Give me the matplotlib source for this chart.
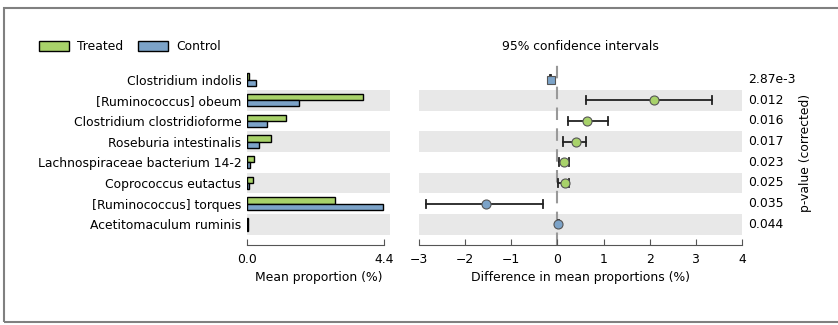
import matplotlib.pyplot as plt
import matplotlib.patches as mpatches
import numpy as np

species = ["Clostridium indolis", "[Ruminococcus] obeum", "Clostridium clostridioforme",
           "Roseburia intestinalis", "Lachnospiraceae bacterium 14-2", "Coprococcus eutactus",
           "[Ruminococcus] torques", "Acetitomaculum ruminis"]
treated = [0.08, 3.73, 1.25, 0.77, 0.22, 0.20, 2.83, 0.02]
control = [0.28, 1.67, 0.65, 0.38, 0.10, 0.08, 4.37, 0.03]
diff = [-0.15, 2.10, 0.65, 0.41, 0.15, 0.17, -1.54, 0.02]
ci_low = [-0.17, 0.61, 0.22, 0.11, 0.03, 0.02, -2.84, 0.01]
ci_high = [-0.13, 3.34, 1.10, 0.63, 0.24, 0.26, -0.32, 0.03]
pvals = ["2.87e-3", "0.012", "0.016", "0.017", "0.023", "0.025", "0.035", "0.044"]

green = "#a8d26a"
blue = "#7ca3c8"
band = "#e8e8e8"
plt.rcParams['font.family'] = ['DejaVu Sans']
plt.rcParams['font.size'] = 8.9

fig = plt.figure(figsize=(8.38, 3.25), dpi=100)
fig.patches.append(mpatches.Rectangle((4 / 838, 3 / 325), 1.0, 314 / 325, transform=fig.transFigure,
                                      fill=False, edgecolor="#808080", linewidth=1.5))

y = np.arange(len(species))
ylim = (8.0, -0.85)
h = 0.3

ax1 = fig.add_axes([247 / 838, 1 - 245 / 325, 143 / 838, 183 / 325])
ax2 = fig.add_axes([419 / 838, 1 - 245 / 325, 323 / 838, 183 / 325])

for ax in (ax1, ax2):
    for i in y:
        if i % 2 == 1:
            ax.axhspan(i - 0.5, i + 0.5, color=band, zorder=0, linewidth=0)
    ax.set_ylim(*ylim)
    for s in ("top", "right", "left"):
        ax.spines[s].set_visible(False)
    ax.spines["bottom"].set_color("#555555")
    ax.tick_params(axis="x", direction="in", length=4, color="#555555", pad=6)
    ax.tick_params(axis="y", length=0)

ax1.barh(y - h / 2, treated, height=h, color=green, edgecolor="black", linewidth=1, zorder=2)
ax1.barh(y + h / 2, control, height=h, color=blue, edgecolor="black", linewidth=1, zorder=2)
ax1.set_xlim(0, 4.6)
ax1.spines["bottom"].set_bounds(0, 4.4)
ax1.set_xticks([0, 4.4])
ax1.set_xticklabels(["0.0", "4.4"])
ax1.set_yticks(y)
ax1.set_yticklabels(species)
ax1.tick_params(axis="y", pad=4)
ax1.set_xlabel("Mean proportion (%)", labelpad=3)

ax2.axvline(0, color="#999999", linestyle=(0, (6, 4)), linewidth=1.5, zorder=1)
for i in y:
    c = green if treated[i] > control[i] else blue
    ax2.plot([ci_low[i], ci_high[i]], [i, i], color="#222222", linewidth=1.3, zorder=2)
    ax2.plot([ci_low[i], ci_low[i]], [i - 0.2, i + 0.2], color="#222222", linewidth=1.3, zorder=2)
    ax2.plot([ci_high[i], ci_high[i]], [i - 0.2, i + 0.2], color="#222222", linewidth=1.3, zorder=2)
    m = "s" if i == 0 else "o"
    ax2.plot(diff[i], i, marker=m, markersize=6.5 if i else 6, color=c, markeredgecolor="#555555",
             markeredgewidth=0.8, zorder=3)
ax2.set_xlim(-3, 4)
ax2.set_xticks(range(-3, 5))
ax2.set_xticklabels([str(v).replace("-", "\u2212") for v in range(-3, 5)])
ax2.set_yticks([])
ax2.set_xlabel("Difference in mean proportions (%)", labelpad=3)
ax2.set_title("95% confidence intervals", fontsize=8.9, pad=9)

for i in y:
    ax2.text(1.02, i, pvals[i], transform=ax2.get_yaxis_transform(), va="center", ha="left")
fig.text(805 / 838, 1 - 153 / 325, "p-value (corrected)", rotation=90, va="center", ha="center")

fig.legend(handles=[mpatches.Patch(facecolor=green, edgecolor="black", label="Treated"),
                    mpatches.Patch(facecolor=blue, edgecolor="black", label="Control")],
           loc="center left", bbox_to_anchor=(34 / 838, 1 - 47 / 325), ncol=2, frameon=False,
           handlelength=2.4, handleheight=0.8, columnspacing=1.2, handletextpad=0.7, borderaxespad=0)

fig.savefig("out.png", dpi=100)
